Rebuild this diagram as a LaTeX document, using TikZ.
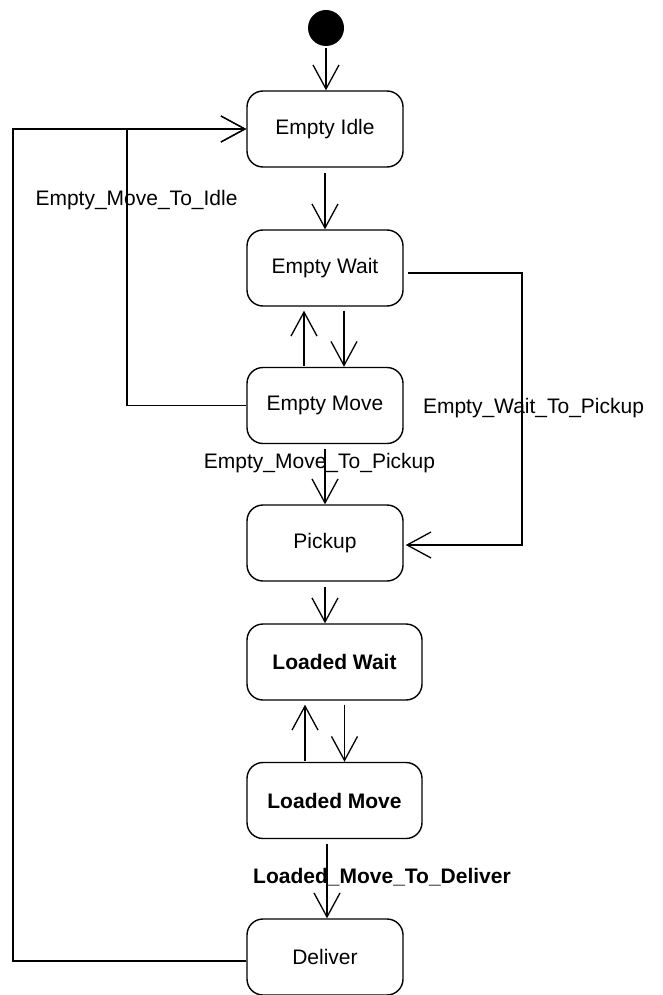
\documentclass[tikz,border=0pt]{standalone}
\usepackage{fontspec}
\setmainfont{Liberation Sans}
\usetikzlibrary{arrows.meta}
\begin{document}
\begin{tikzpicture}[x=1pt,y=-1pt,
  state/.style={draw, line width=1.4pt, rounded corners=16pt, minimum width=156pt, minimum height=76pt, font=\fontsize{21}{25}\selectfont, inner sep=0pt},
  lstate/.style={state, minimum width=175pt, font=\fontsize{21}{25}\selectfont\bfseries},
  arr/.style={line width=1.3pt, -{Straight Barb[length=24pt,width=26pt,line width=1.3pt]}},
  lbl/.style={font=\fontsize{21}{25}\selectfont, inner sep=0pt},
  blbl/.style={lbl, font=\fontsize{21}{25}\selectfont\bfseries}
]
\useasboundingbox (0,0) rectangle (662,995);
\fill[white] (0,0) rectangle (662,995);

\node[circle, fill=black, minimum size=36pt, inner sep=0pt] (init) at (326,28) {};
\node[state] (ei) at (325,129) {Empty Idle};
\node[state] (ew) at (325,268) {Empty Wait};
\node[state] (em) at (325,405.5) {Empty Move};
\node[state] (pk) at (325,543) {Pickup};
\node[lstate] (lw) at (334.5,662) {Loaded Wait};
\node[lstate] (lm) at (334.5,800.5) {Loaded Move};
\node[state] (dl) at (325,957) {Deliver};

\coordinate (rx) at (522,273);
\coordinate (lx) at (127,405.5);
\coordinate (ox) at (13,961);

\draw[arr, shorten <=2pt] (init.south) -- (init.south |- ei.north);
\draw[arr, shorten <=5pt] (ei) -- (ew);
\draw[arr, shorten <=1pt, shorten >=4pt] ([xshift=-21pt]em.north) -- ([xshift=-21pt]ew.south);
\draw[arr, shorten <=4pt] ([xshift=19pt]ew.south) -- ([xshift=19pt]em.north);
\draw[arr, shorten <=5pt] (em) -- (pk);
\draw[arr, shorten <=5pt] (pk.south) -- (pk.south |- lw.north);
\draw[arr, shorten <=1pt, shorten >=4pt] ([xshift=-29.5pt]lm.north) -- ([xshift=-29.5pt]lw.south);
\draw[arr, shorten <=4pt] ([xshift=10pt]lw.south) -- ([xshift=10pt]lm.north);
\draw[arr, shorten <=5pt] ([xshift=-7.5pt]lm.south) -- ([xshift=-7.5pt]lm.south |- dl.north);
\draw[arr, shorten <=4pt, shorten >=2pt] ([yshift=-5pt]ew.east) -- (rx) |- ([yshift=-2pt]pk.east);
\draw[arr] (em.west) -- (lx) |- (ei.west);
\draw[arr] ([yshift=-4pt]dl.west) -- (ox) |- (ei.west);

\node[lbl] (l1) at (136.5,200) {Empty\_Move\_To\_Idle};
\node[lbl] (l2) at (319.5,463) {Empty\_Move\_To\_Pickup};
\node[lbl] (l3) at (533.5,408) {Empty\_Wait\_To\_Pickup};
\node[blbl] (l4) at (382,877) {Loaded\_Move\_To\_Deliver};
\end{tikzpicture}
\end{document}
